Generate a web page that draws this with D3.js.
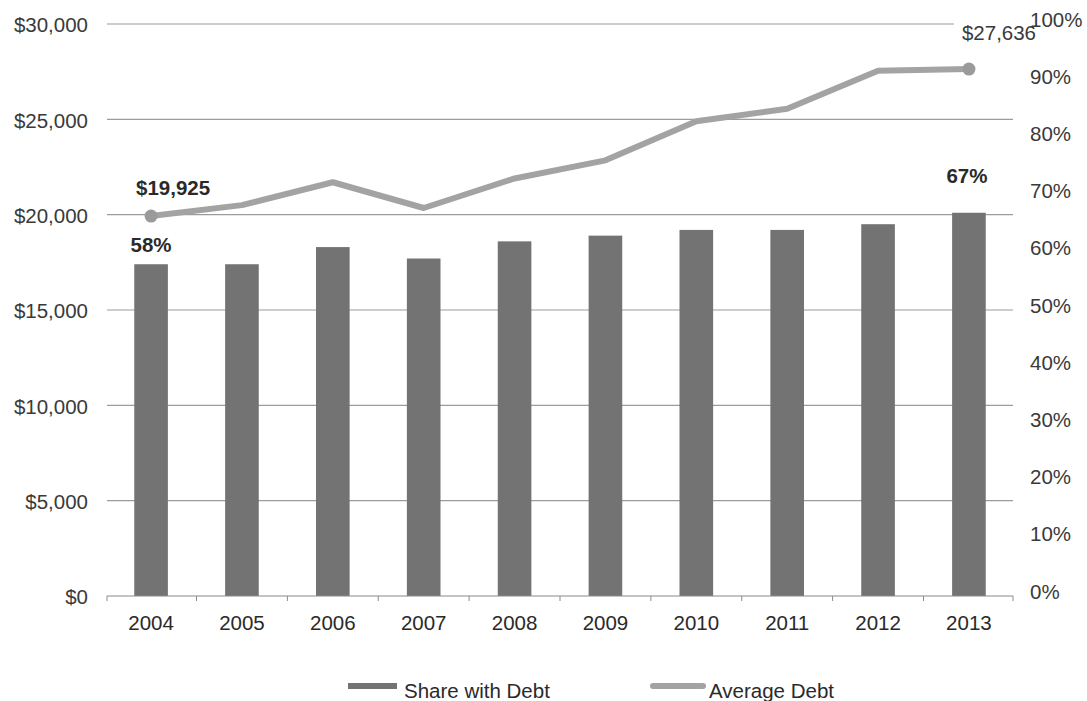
<!DOCTYPE html>
<html lang="en">
  <head>
    <meta charset="UTF-8" />
    <title>Share with Debt and Average Debt</title>
    <style>
      body { margin: 0; background: #fff; }
      text { font-family: "Liberation Sans", Arial, sans-serif; }
    </style>
  </head>
  <body>
    <script src="https://d3js.org/d3.v7.min.js"></script>
    <script>
      const years = ["2004", "2005", "2006", "2007", "2008", "2009", "2010", "2011", "2012", "2013"];
      const shareWithDebt = [0.58, 0.58, 0.61, 0.59, 0.62, 0.63, 0.64, 0.64, 0.65, 0.67];
      const averageDebt = [19925, 20500, 21700, 20350, 21900, 22850, 24900, 25550, 27550, 27636];
      const leftTicks = [0, 5000, 10000, 15000, 20000, 25000, 30000];
      const rightTicks = [0, 0.1, 0.2, 0.3, 0.4, 0.5, 0.6, 0.7, 0.8, 0.9, 1];

      const width = 1087, height = 701;
      const plotLeft = 107, plotRight = 1013, plotTop = 24, plotBottom = 596;
      const fs = 20.5;

      const svg = d3.select("body").append("svg")
        .attr("width", width)
        .attr("height", height);

      const x = d3.scaleBand().domain(years).range([plotLeft, plotRight])
        .paddingInner(0.63).paddingOuter(0.3);
      const yL = d3.scaleLinear().domain([0, 30000]).range([plotBottom, plotTop]);
      const yR = d3.scaleLinear().domain([0, 1]).range([plotBottom, plotTop]);
      const cx = (d) => x(d) + x.bandwidth() / 2;

      // gridlines
      svg.append("g")
        .selectAll("line")
        .data(leftTicks.filter((d) => d > 0))
        .join("line")
        .attr("x1", plotLeft)
        .attr("x2", plotRight)
        .attr("y1", (d) => yL(d))
        .attr("y2", (d) => yL(d))
        .attr("stroke", "#9c9c9c")
        .attr("stroke-width", 1.2);

      // left axis
      const axL = svg.append("g")
        .attr("transform", `translate(${plotLeft},0)`)
        .call(d3.axisLeft(yL).tickValues(leftTicks).tickSize(0).tickPadding(19)
          .tickFormat((d) => "$" + d3.format(",")(d)));
      axL.select(".domain").remove();
      axL.selectAll("text").attr("font-size", fs).attr("fill", "#3a3a3a").attr("dy", "0.38em");

      // right axis
      const axR = svg.append("g")
        .attr("transform", `translate(${plotRight},0)`)
        .call(d3.axisRight(yR).tickValues(rightTicks).tickSize(0).tickPadding(17)
          .tickFormat(d3.format(".0%")));
      axR.select(".domain").remove();
      axR.selectAll("text").attr("font-size", fs).attr("fill", "#3a3a3a").attr("dy", "0.1em");

      // bars
      svg.append("g")
        .selectAll("rect")
        .data(years)
        .join("rect")
        .attr("x", (d) => x(d))
        .attr("width", x.bandwidth())
        .attr("y", (d, i) => yR(shareWithDebt[i]))
        .attr("height", (d, i) => plotBottom - yR(shareWithDebt[i]))
        .attr("fill", "#737373");

      // x axis line + ticks
      const xa = svg.append("g").attr("stroke", "#8a8a8a");
      xa.append("line")
        .attr("x1", plotLeft).attr("x2", plotRight)
        .attr("y1", plotBottom).attr("y2", plotBottom)
        .attr("stroke-width", 1.2);
      const bounds = years.map((d) => cx(d) - x.step() / 2).concat([plotRight]);
      bounds[0] = plotLeft;
      xa.selectAll(".tick")
        .data(bounds)
        .join("line")
        .attr("x1", (d) => d).attr("x2", (d) => d)
        .attr("y1", plotBottom).attr("y2", plotBottom + 5);

      svg.append("g")
        .selectAll("text")
        .data(years)
        .join("text")
        .attr("x", (d) => cx(d))
        .attr("y", plotBottom + 34)
        .attr("text-anchor", "middle")
        .attr("font-size", fs)
        .attr("fill", "#2a2a2a")
        .text((d) => d);

      // average debt line
      const line = d3.line()
        .x((d, i) => cx(years[i]))
        .y((d) => yL(d));
      svg.append("path")
        .datum(averageDebt)
        .attr("d", line)
        .attr("fill", "none")
        .attr("stroke", "#a3a3a3")
        .attr("stroke-width", 6)
        .attr("stroke-linejoin", "round");

      const ends = [0, years.length - 1];
      svg.append("g")
        .selectAll("circle")
        .data(ends)
        .join("circle")
        .attr("cx", (i) => cx(years[i]))
        .attr("cy", (i) => yL(averageDebt[i]))
        .attr("r", 6.5)
        .attr("fill", "#9a9a9a");

      // annotations
      const last = years.length - 1;
      svg.append("text")
        .attr("x", cx(years[0]) - 15)
        .attr("y", yL(averageDebt[0]) - 21)
        .attr("font-size", fs).attr("font-weight", "bold").attr("fill", "#2a2a2a")
        .text("$" + d3.format(",")(averageDebt[0]));

      const lbl = svg.append("text")
        .attr("x", cx(years[last]) - 7)
        .attr("y", yL(averageDebt[last]) - 29)
        .attr("font-size", fs).attr("fill", "#3a3a3a")
        .text("$" + d3.format(",")(averageDebt[last]));
      const bb = lbl.node().getBBox();
      svg.insert("rect", () => lbl.node())
        .attr("x", bb.x - 8).attr("y", bb.y - 2)
        .attr("width", plotRight - bb.x + 8).attr("height", bb.height + 2)
        .attr("fill", "#fff");

      svg.append("text")
        .attr("x", cx(years[0]))
        .attr("y", yR(shareWithDebt[0]) - 12)
        .attr("text-anchor", "middle")
        .attr("font-size", fs).attr("font-weight", "bold").attr("fill", "#2a2a2a")
        .text(d3.format(".0%")(shareWithDebt[0]));

      svg.append("text")
        .attr("x", cx(years[last]) - 2)
        .attr("y", yR(shareWithDebt[last]) - 30)
        .attr("text-anchor", "middle")
        .attr("font-size", fs).attr("font-weight", "bold").attr("fill", "#2a2a2a")
        .text(d3.format(".0%")(shareWithDebt[last]));

      // legend
      const lg = svg.append("g");
      lg.append("rect")
        .attr("x", 348).attr("y", 683)
        .attr("width", 49).attr("height", 6)
        .attr("fill", "#737373");
      lg.append("text")
        .attr("x", 404).attr("y", 698)
        .attr("font-size", fs).attr("fill", "#2a2a2a")
        .text("Share with Debt");
      lg.append("line")
        .attr("x1", 653).attr("x2", 703)
        .attr("y1", 686).attr("y2", 686)
        .attr("stroke", "#a3a3a3").attr("stroke-width", 6)
        .attr("stroke-linecap", "round");
      lg.append("text")
        .attr("x", 709).attr("y", 698)
        .attr("font-size", fs).attr("fill", "#2a2a2a")
        .text("Average Debt");
    </script>
  </body>
</html>
